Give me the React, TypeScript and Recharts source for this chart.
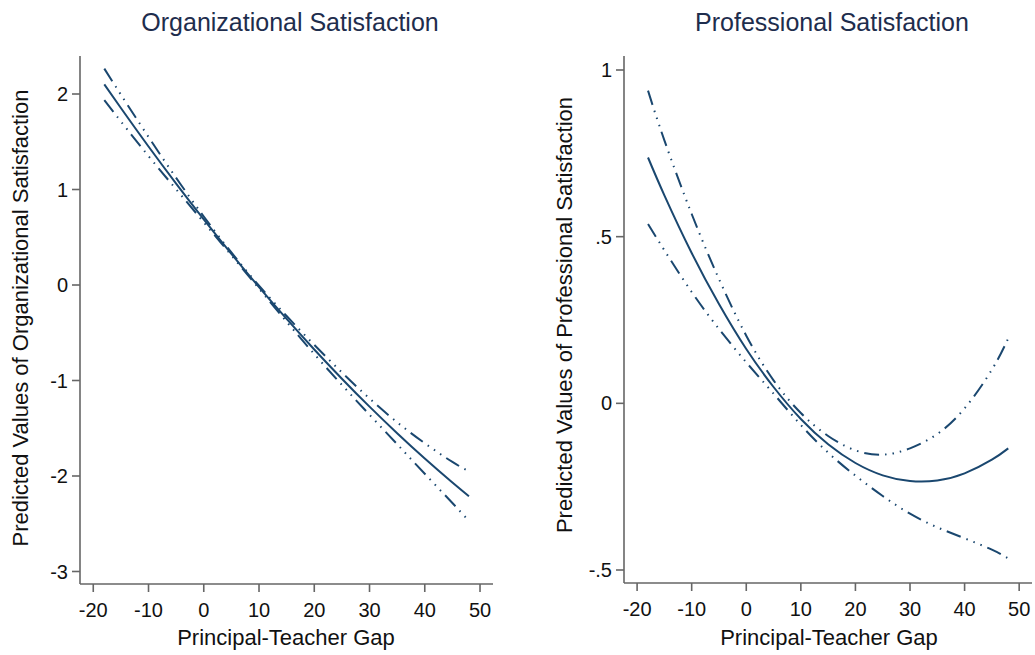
import React from 'react';
import { LineChart, Line, XAxis, YAxis } from 'recharts';

const gapValues = [-18, -15, -10, -5, 0, 5, 10, 15, 20, 25, 30, 35, 40, 45, 48];

const orgFit = [2.101, 1.853, 1.45, 1.062, 0.687, 0.326, -0.022, -0.355, -0.675, -0.981, -1.274, -1.552, -1.817, -2.068, -2.212];
const orgUpper = [2.266, 1.993, 1.55, 1.122, 0.717, 0.341, -0.007, -0.325, -0.627, -0.916, -1.189, -1.437, -1.657, -1.853, -1.952];
const orgLower = [1.936, 1.713, 1.35, 1.002, 0.657, 0.311, -0.037, -0.385, -0.723, -1.046, -1.359, -1.667, -1.977, -2.283, -2.472];

const proFit = [0.7375, 0.624, 0.451, 0.298, 0.163, 0.049, -0.047, -0.123, -0.179, -0.216, -0.233, -0.2315, -0.21, -0.169, -0.135];
const proUpper = [0.938, 0.789, 0.568, 0.373, 0.203, 0.069, -0.029, -0.098, -0.141, -0.154, -0.135, -0.092, -0.015, 0.101, 0.195];
const proLower = [0.538, 0.459, 0.334, 0.223, 0.123, 0.029, -0.065, -0.148, -0.217, -0.278, -0.331, -0.372, -0.405, -0.439, -0.465];

const xTicks = [-20, -10, 0, 10, 20, 30, 40, 50];
const orgYTicks = [-3, -2, -1, 0, 1, 2];
const proYTicks = [-0.5, 0, 0.5, 1];

const orgData = gapValues.map((x, i) => ({ x, fit: orgFit[i], upper: orgUpper[i], lower: orgLower[i] }));
const proData = gapValues.map((x, i) => ({ x, fit: proFit[i], upper: proUpper[i], lower: proLower[i] }));

const FONT = '"Liberation Sans", Arial, Helvetica, sans-serif';
const LINE = '#1a476f';
const AXIS = '#666666';
const DASH = '15 6 1.5 6 1.5 6 1.5 6';

const tickStyle = { fontSize: 20, fill: '#111111', fontFamily: FONT };

const proFormat = (v: number) => {
  if (v === 0.5) return '.5';
  if (v === -0.5) return '-.5';
  return String(v);
};

function Panel(props: {
  data: any[];
  width: number;
  margin: any;
  yDomain: [number, number];
  yTicks: number[];
  yFormat?: (v: number) => string;
}) {
  const { data, width, margin, yDomain, yTicks, yFormat } = props;
  return (
    <LineChart width={width} height={655} data={data} margin={margin}>
      <XAxis
        dataKey="x"
        type="number"
        domain={[-22.4, 52.35]}
        ticks={xTicks}
        interval={0}
        allowDataOverflow
        height={60}
        tickSize={8}
        tickMargin={11}
        tick={tickStyle}
        axisLine={{ stroke: AXIS, strokeWidth: 1.6 }}
        tickLine={{ stroke: AXIS, strokeWidth: 1.6 }}
      />
      <YAxis
        type="number"
        domain={yDomain}
        ticks={yTicks}
        interval={0}
        allowDataOverflow
        width={80}
        tickSize={8}
        tickMargin={4}
        tick={tickStyle}
        tickFormatter={yFormat}
        axisLine={{ stroke: AXIS, strokeWidth: 1.6 }}
        tickLine={{ stroke: AXIS, strokeWidth: 1.6 }}
      />
      <Line dataKey="upper" type="natural" stroke={LINE} strokeWidth={2} strokeDasharray={DASH} dot={false} isAnimationActive={false} />
      <Line dataKey="lower" type="natural" stroke={LINE} strokeWidth={2} strokeDasharray={DASH} dot={false} isAnimationActive={false} />
      <Line dataKey="fit" type="natural" stroke={LINE} strokeWidth={2} dot={false} isAnimationActive={false} />
    </LineChart>
  );
}

export default function App() {
  return (
    <div style={{ position: 'absolute', left: 0, top: 0, width: 1035, height: 655, background: '#ffffff', fontFamily: FONT }}>
      <div style={{ position: 'absolute', left: 0, top: 0 }}>
        <Panel
          data={orgData}
          width={520}
          margin={{ top: 56, right: 27, bottom: 11, left: 0 }}
          yDomain={[-3.131, 2.398]}
          yTicks={orgYTicks}
        />
      </div>
      <div style={{ position: 'absolute', left: 520, top: 0 }}>
        <Panel
          data={proData}
          width={515}
          margin={{ top: 56, right: 3, bottom: 12, left: 24 }}
          yDomain={[-0.539, 1.042]}
          yTicks={proYTicks}
          yFormat={proFormat}
        />
      </div>
      <svg width={1035} height={655} style={{ position: 'absolute', left: 0, top: 0, pointerEvents: 'none' }}>
        <text x={290} y={31} textAnchor="middle" fontSize={25} fill="#1e2d4d" fontFamily={FONT}>Organizational Satisfaction</text>
        <text x={832} y={31} textAnchor="middle" fontSize={25} fill="#1e2d4d" fontFamily={FONT}>Professional Satisfaction</text>
        <text x={286} y={645} textAnchor="middle" fontSize={22} fill="#111111" fontFamily={FONT}>Principal-Teacher Gap</text>
        <text x={829} y={645} textAnchor="middle" fontSize={22} fill="#111111" fontFamily={FONT}>Principal-Teacher Gap</text>
        <text x={0} y={0} transform="translate(28,318) rotate(-90)" textAnchor="middle" fontSize={22} fill="#111111" fontFamily={FONT}>Predicted Values of Organizational Satisfaction</text>
        <text x={0} y={0} transform="translate(572,315) rotate(-90)" textAnchor="middle" fontSize={22} fill="#111111" fontFamily={FONT}>Predicted Values of Professional Satisfaction</text>
      </svg>
    </div>
  );
}
